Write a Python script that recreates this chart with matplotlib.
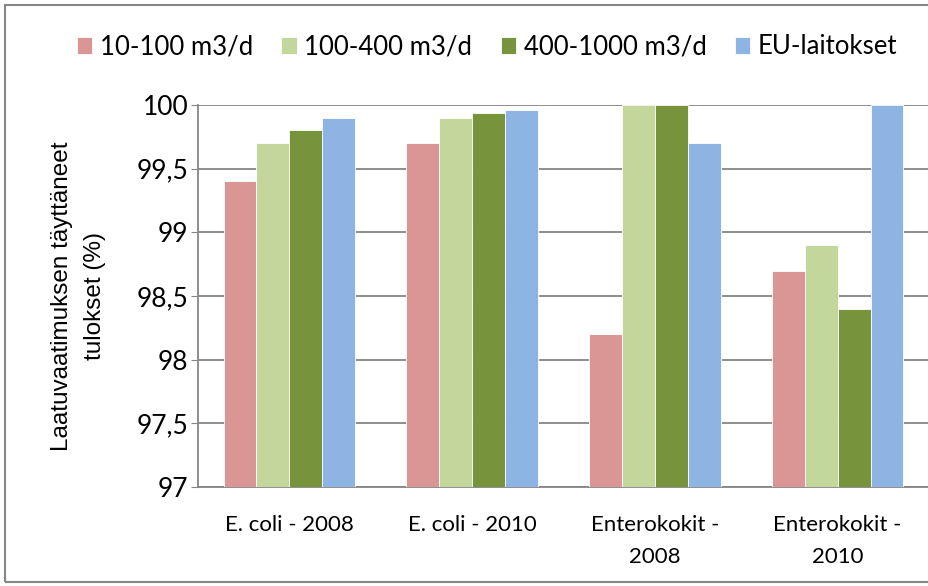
import numpy as np
import matplotlib.pyplot as plt
from matplotlib.patches import Rectangle

# data
categories = ['E. coli - 2008', 'E. coli - 2010', 'Enterokokit -\n2008', 'Enterokokit -\n2010']
series_names = ['10-100 m3/d', '100-400 m3/d', '400-1000 m3/d', 'EU-laitokset']
small = [99.4, 99.7, 98.2, 98.7]
medium = [99.7, 99.9, 100.0, 98.9]
large = [99.8, 99.94, 100.0, 98.4]
eu_plants = [99.9, 99.96, 99.7, 100.0]
colors = ['#D99694', '#C3D69B', '#77933C', '#8EB4E3']
yticks = [97, 97.5, 98, 98.5, 99, 99.5, 100]

plt.rcParams['font.family'] = ['Lato', 'DejaVu Sans']

fig = plt.figure(figsize=(9.29, 5.86), dpi=100)
ax = fig.add_axes([198 / 929, 1 - 487 / 586, 731 / 929, (487 - 105) / 586])

x = np.arange(len(categories))
width = 0.18
all_series = [small, medium, large, eu_plants]
for i, (vals, name, col) in enumerate(zip(all_series, series_names, colors)):
    offs = (i - 1.5) * width
    ax.bar(x + offs, np.array(vals) - 97, bottom=97, width=width, color=col,
           label=name, edgecolor='white', linewidth=0.6, zorder=3)

ax.set_xlim(-0.5, len(categories) - 0.5)
ax.set_ylim(97, 100)
ax.set_yticks(yticks)
ax.set_yticklabels([f'{t:g}'.replace('.', ',') for t in yticks], fontsize=19)
ax.set_xticks(x)
ax.set_xticklabels(categories, fontsize=16, linespacing=1.75)
ax.tick_params(axis='x', length=0, pad=20)
ax.tick_params(axis='y', length=5, color='#868686', pad=2)
ax.yaxis.grid(True, color='#868686', linewidth=1.3, zorder=0)
for s in ['top', 'right']:
    ax.spines[s].set_visible(False)
for s in ['left', 'bottom']:
    ax.spines[s].set_color('#868686')
    ax.spines[s].set_linewidth(1.3)

ax.set_ylabel('Laatuvaatimuksen täyttäneet\ntulokset (%)', fontsize=17.5,
              family=['Liberation Sans', 'DejaVu Sans'], labelpad=22, linespacing=1.65)

fig.legend(loc='center', bbox_to_anchor=(487 / 929, 1 - 47 / 586), ncol=4,
           frameon=False, fontsize=18.5, handlelength=0.6, handleheight=0.6,
           handletextpad=0.3, columnspacing=1.1)

# outer chart border
fig.patches.append(Rectangle((5 / 929, 4 / 586), 1.2, 1 - 9 / 586, transform=fig.transFigure,
                             fill=False, edgecolor='#868686', linewidth=1.5))

fig.savefig('out.png', dpi=100, facecolor='white')
